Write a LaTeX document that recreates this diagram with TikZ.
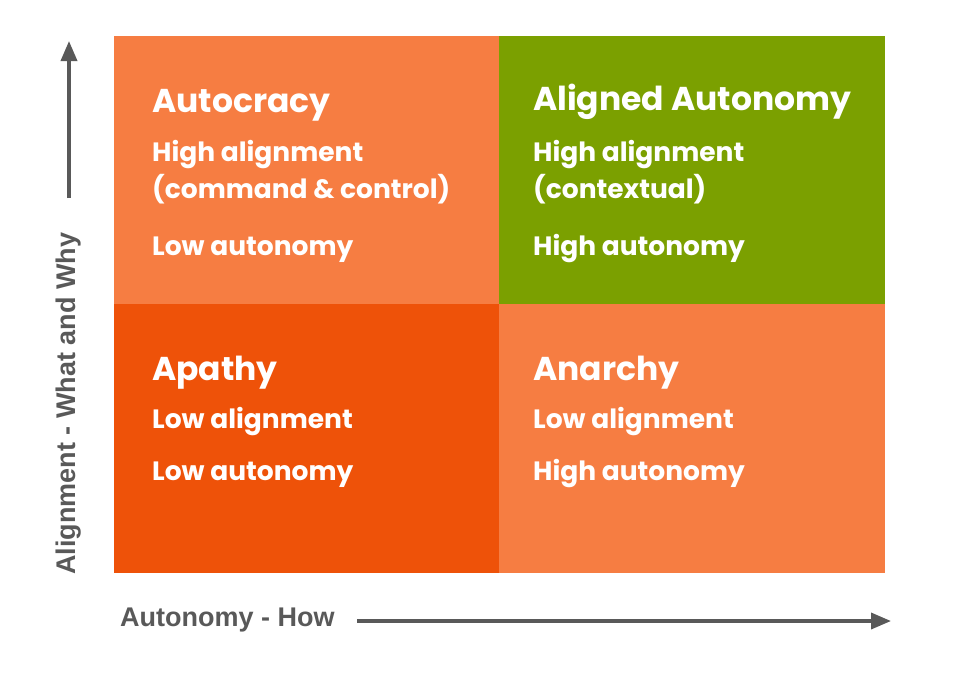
\documentclass[tikz,border=0pt]{standalone}
\usepackage{fontspec}
\usetikzlibrary{arrows.meta}
\setmainfont{Poppins}
\newfontfamily\axisfont{Liberation Sans}
\definecolor{lightor}{RGB}{246,125,66}
\definecolor{darkor}{RGB}{238,82,9}
\definecolor{leafgreen}{RGB}{123,160,0}
\definecolor{axisgrey}{RGB}{89,89,89}
\begin{document}
\begin{tikzpicture}[x=1pt,y=-1pt,
  quad/.style={draw=none,inner sep=0pt,minimum width=385pt,minimum height=268pt,anchor=north west},
  ttl/.style={anchor=base west,inner sep=0pt,text=white,font=\bfseries\fontsize{33}{38}\selectfont},
  sub/.style={anchor=base west,inner sep=0pt,text=white,font=\bfseries\fontsize{26.5}{30}\selectfont},
  axlab/.style={inner sep=0pt,text=axisgrey,font=\axisfont\bfseries\fontsize{27}{31}\selectfont},
  axarrow/.style={draw=axisgrey,line width=3.5pt,-{Triangle[length=20pt,width=16pt]}}]
\useasboundingbox (0,0) rectangle (958,673);
\fill[white] (0,0) rectangle (958,673);
\node[quad,fill=lightor] (q1) at (114,36) {};
\node[quad,fill=leafgreen,minimum width=386pt] (q2) at (499,36) {};
\node[quad,fill=darkor,minimum height=269pt] (q3) at (114,304) {};
\node[quad,fill=lightor,minimum width=386pt,minimum height=269pt] (q4) at (499,304) {};
% top-left
\node[ttl] (t1) at (152,112) {Autocracy};
\node[sub] (a1) at (152,161) {High alignment};
\node[sub] (b1) at (152,198) {(command \& control)};
\node[sub] (c1) at (152,255) {Low autonomy};
% top-right
\node[ttl] (t2) at (533,110) {Aligned Autonomy};
\node[sub] (a2) at (533,161) {High alignment};
\node[sub] (b2) at (533,198) {(contextual)};
\node[sub] (c2) at (533,255) {High autonomy};
% bottom-left
\node[ttl] (t3) at (152,380) {Apathy};
\node[sub] (a3) at (152,428) {Low alignment};
\node[sub] (c3) at (152,480) {Low autonomy};
% bottom-right
\node[ttl] (t4) at (533,380) {Anarchy};
\node[sub] (a4) at (533,428) {Low alignment};
\node[sub] (c4) at (533,480) {High autonomy};
% axes
\node[axlab,anchor=west] (xl) at (120,620) {Autonomy - How};
\node[axlab,rotate=90,anchor=west] (yl) at (69,575) {Alignment - What and Why};
\coordinate (xs) at (357,621);
\coordinate (xe) at (891,621);
\coordinate (ys) at (69,198);
\coordinate (ye) at (69,41);
\draw[axarrow] (xs) -- (xe);
\draw[axarrow] (ys) -- (ye);
\end{tikzpicture}
\end{document}
